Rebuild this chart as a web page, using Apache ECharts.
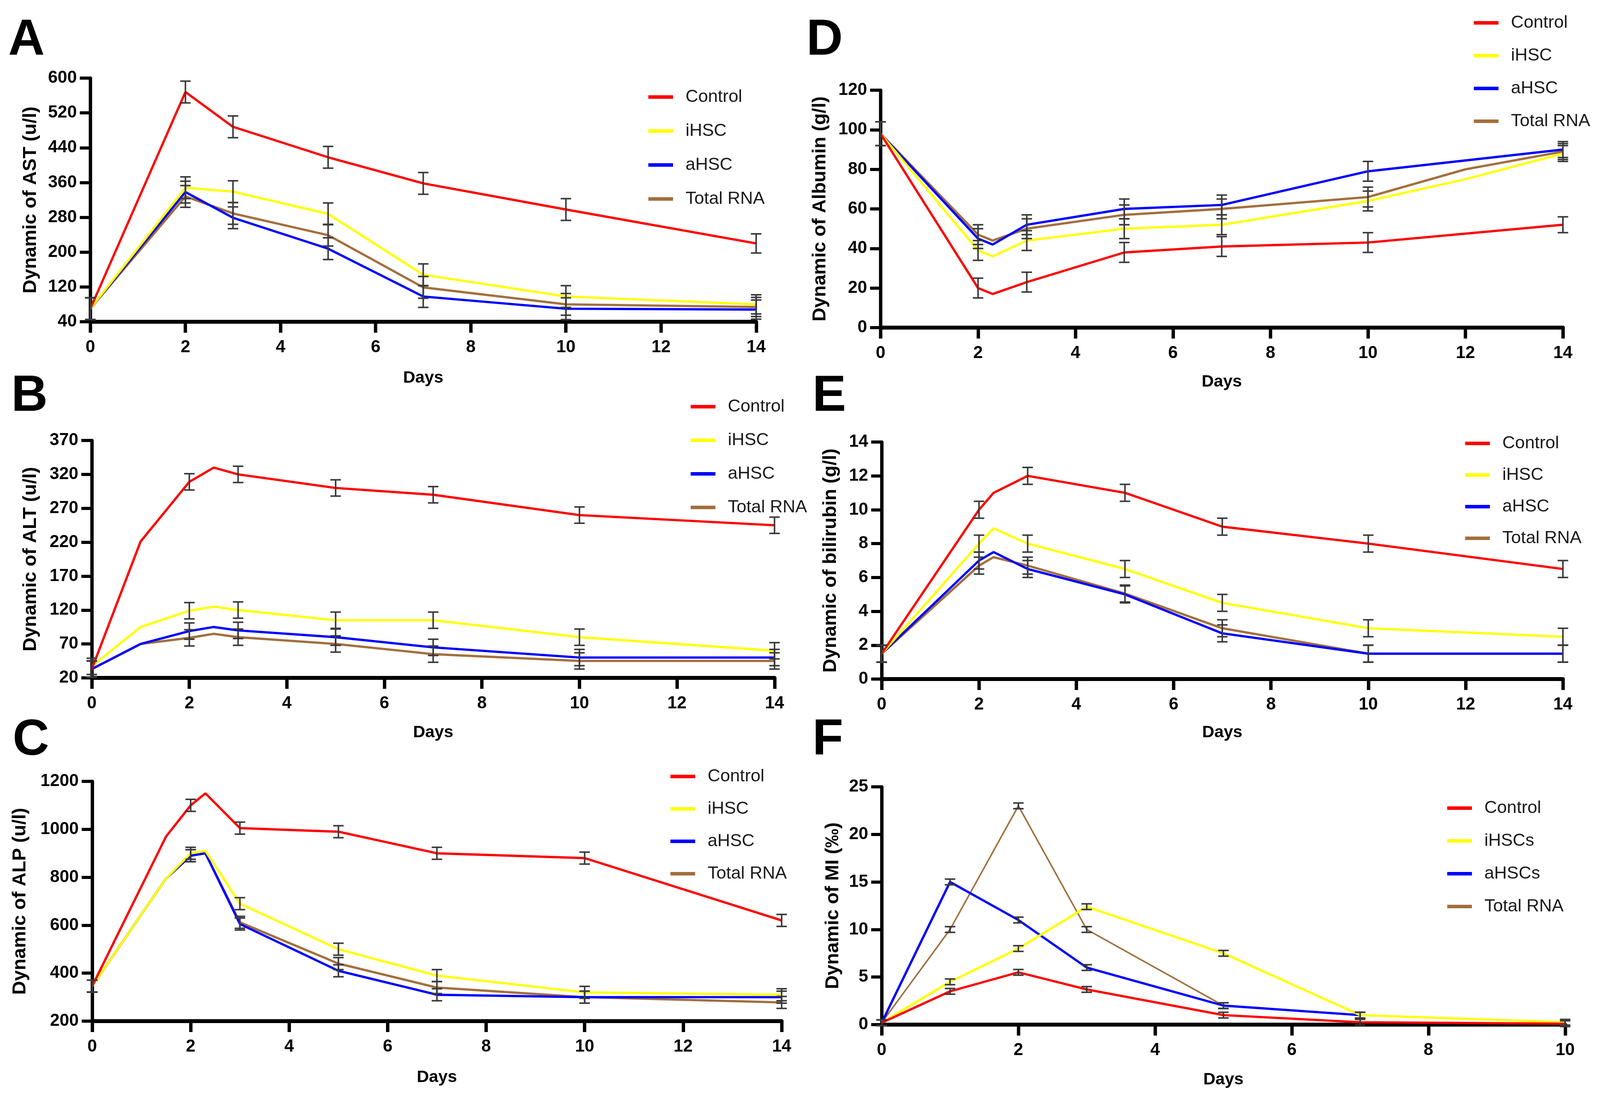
<!DOCTYPE html>
<html>
<head>
<meta charset="utf-8">
<title>Dynamic of liver indexes</title>
<script src="https://cdn.jsdelivr.net/npm/echarts@6.0.0/dist/echarts.min.js"></script>
<style>
html, body { margin: 0; padding: 0; background: #fff; overflow: hidden; }
#main { width: 100vw; height: 100vh; }
</style>
</head>
<body>
<div id="main"></div>
<script>
// 图例名称
var groupNames = ['Control', 'iHSC', 'aHSC', 'Total RNA'];
var miNames = ['Control', 'iHSCs', 'aHSCs', 'Total RNA'];

// A: AST
var astDays = [0, 2, 3, 5, 7, 10, 14];
var astControl = [70, 568, 488, 418, 358, 298, 220];
var astIHSC = [70, 348, 339, 288, 148, 98, 80];
var astAHSC = [70, 338, 279, 208, 98, 70, 68];
var astTotal = [70, 328, 289, 239, 119, 80, 74];
var astErr = [25, 25, 25, 25, 25, 25, 22];
var astTicks = [40, 120, 200, 280, 360, 440, 520, 600];

// B: ALT
var altDays = [0, 1, 2, 2.5, 3, 5, 7, 10, 14];
var altControl = [33, 221, 309, 330, 320, 300, 290, 260, 245];
var altIHSC = [37, 95, 119, 125, 120, 105, 105, 80, 60];
var altAHSC = [33, 70, 89, 95, 90, 80, 65, 50, 50];
var altTotal = [33, 70, 79, 85, 80, 70, 55, 45, 45];
var altErr = [12, null, 12, null, 12, 12, 12, 12, 12];
var altTicks = [20, 70, 120, 170, 220, 270, 320, 370];

// C: ALP
var alpDays = [0, 1.5, 2, 2.3, 3, 5, 7, 10, 14];
var alpControl = [346, 970, 1100, 1150, 1005, 990, 900, 880, 620];
var alpIHSC = [346, 795, 900, 910, 690, 500, 390, 320, 310];
var alpAHSC = [346, 795, 890, 900, 605, 410, 310, 300, 300];
var alpTotal = [346, 795, 890, 900, 612, 440, 340, 300, 278];
var alpErr = [25, null, 25, null, 25, 25, 25, 25, 25];

// D: Albumin
var albDays = [0, 2, 2.3, 3, 5, 7, 10, 12, 14];
var albControl = [98, 20, 17, 23, 38, 41, 43, null, 52];
var albIHSC = [98, 39, 36, 44, 50, 52, 64, 75, 88];
var albAHSC = [98, 45, 42, 52, 60, 62, 79, null, 90];
var albTotal = [98, 47, 44, 50, 57, 60, 66, 80, 89];
var albErr = [6, 5, null, 5, 5, 5, 5, null, 4];

// E: bilirubin
var bilDays = [0, 2, 2.3, 3, 5, 7, 10, 14];
var bilControl = [1.5, 10, 11, 12, 11, 9, 8, 6.5];
var bilIHSC = [1.5, 8, 8.9, 8, 6.5, 4.5, 3, 2.5];
var bilAHSC = [1.5, 7, 7.5, 6.5, 5, 2.7, 1.5, 1.5];
var bilTotal = [1.5, 6.7, 7.2, 6.7, 5.05, 3, 1.5, 1.5];
var bilErr = [0.5, 0.5, null, 0.5, 0.5, 0.5, 0.5, 0.5];

// F: MI
var miDays = [0, 1, 2, 3, 5, 7, 10];
var miControl = [0.2, 3.5, 5.5, 3.7, 1, 0.25, 0.1];
var miIHSC = [0.2, 4.5, 8, 12.4, 7.5, 1, 0.25];
var miAHSC = [0.2, 15, 11, 6, 2, 1, null];
var miTotal = [0.2, 10, 23, 10, 2, null, null];
var miErr = [0.3, 0.3, 0.3, 0.3, 0.3, 0.3, 0.3];

var colors = ['#ff0000', '#ffff00', '#0000ff', '#a26f3e'];
var fontName = '"Liberation Sans", Arial, sans-serif';

// 版面按 4270x2817 设计，按实际窗口大小缩放
var kx = (window.innerWidth || 4270) / 4270;
var ky = (window.innerHeight || 2817) / 2817;
var kf = (kx + ky) / 2;
function px(v) { return v * kx; }
function py(v) { return v * ky; }
function pf(v) { return v * kf; }

// 每个面板的位置和坐标轴
var panels = [
    {letter: 'A', lx: 22, ly: 104, grid: {left: 241, top: 200, width: 1777, height: 624},
     xMax: 14, yMin: 40, yMax: 600, yTicks: astTicks, yName: 'Dynamic of AST (u/l)', yGap: 134, xGap: 123,
     legend: {left: 1725, top: 221, gap: 42}, names: groupNames,
     days: astDays, values: [astControl, astIHSC, astAHSC, astTotal], err: astErr},
    {letter: 'B', lx: 30, ly: 1016, grid: {left: 245, top: 1128, width: 1822, height: 608},
     xMax: 14, yMin: 20, yMax: 370, yTicks: altTicks, yName: 'Dynamic of ALT (u/l)', yGap: 138, xGap: 119,
     legend: {left: 1838, top: 1014, gap: 41}, names: groupNames,
     days: altDays, values: [altControl, altIHSC, altAHSC, altTotal], err: altErr},
    {letter: 'C', lx: 34, ly: 1897, grid: {left: 246, top: 2001, width: 1840, height: 614},
     xMax: 14, yMin: 200, yMax: 1200, yInterval: 200, yName: 'Dynamic of ALP (u/l)', yGap: 167, xGap: 123,
     legend: {left: 1784, top: 1961, gap: 38}, names: groupNames,
     days: alpDays, values: [alpControl, alpIHSC, alpAHSC, alpTotal], err: alpErr},
    {letter: 'D', lx: 2152, ly: 104, grid: {left: 2350, top: 231, width: 1821, height: 608},
     xMax: 14, yMin: 0, yMax: 120, yInterval: 20, yName: 'Dynamic of Albumin (g/l)', yGap: 136, xGap: 118,
     legend: {left: 3928, top: 31, gap: 39}, names: groupNames,
     days: albDays, values: [albControl, albIHSC, albAHSC, albTotal], err: albErr},
    {letter: 'E', lx: 2168, ly: 1016, grid: {left: 2353, top: 1132, width: 1818, height: 607},
     xMax: 14, yMin: 0, yMax: 14, yInterval: 2, yName: 'Dynamic of bilirubin (g/l)', yGap: 111, xGap: 116,
     legend: {left: 3905, top: 1108, gap: 36}, names: groupNames,
     days: bilDays, values: [bilControl, bilIHSC, bilAHSC, bilTotal], err: bilErr},
    {letter: 'F', lx: 2168, ly: 1896, grid: {left: 2353, top: 2015, width: 1824, height: 609},
     xMax: 10, yMin: 0, yMax: 25, yInterval: 5, yName: 'Dynamic of MI (‰)', yGap: 104, xGap: 120,
     legend: {left: 3857, top: 2042, gap: 39}, names: miNames, thinTotal: true,
     days: miDays, values: [miControl, miIHSC, miAHSC, miTotal], err: miErr}
];

function pairs(days, vals) {
    var out = [];
    for (var i = 0; i < days.length; i++) {
        if (vals[i] != null) out.push([days[i], vals[i]]);
    }
    return out;
}

function errPoints(days, vals, err) {
    var out = [];
    for (var i = 0; i < days.length; i++) {
        if (vals[i] != null && err[i] != null) out.push([days[i], vals[i], err[i]]);
    }
    return out;
}

function renderErr(params, api) {
    var x = api.value(0), y = api.value(1), e = api.value(2);
    var top = api.coord([x, y + e]);
    var bot = api.coord([x, y - e]);
    var half = px(14);
    var style = {stroke: '#3a3a3a', lineWidth: pf(4)};
    return {
        type: 'group',
        children: [
            {type: 'line', shape: {x1: top[0], y1: top[1], x2: bot[0], y2: bot[1]}, style: style},
            {type: 'line', shape: {x1: top[0] - half, y1: top[1], x2: top[0] + half, y2: top[1]}, style: style},
            {type: 'line', shape: {x1: bot[0] - half, y1: bot[1], x2: bot[0] + half, y2: bot[1]}, style: style}
        ]
    };
}

function plainNum(v) { return String(v); }

var option = {
    backgroundColor: '#fff',
    animation: false,
    grid: [], xAxis: [], yAxis: [], legend: [], series: [], graphic: []
};

panels.forEach(function (p, i) {
    var g = p.grid;
    option.grid.push({left: px(g.left), top: py(g.top), width: px(g.width), height: py(g.height), outerBoundsMode: 'none'});

    option.xAxis.push({
        type: 'value', gridIndex: i, min: 0, max: p.xMax, interval: 2,
        name: 'Days', nameLocation: 'middle', nameGap: py(p.xGap),
        nameTextStyle: {fontSize: pf(44), fontWeight: 'bold', fontFamily: fontName, color: '#000'},
        axisLine: {show: true, onZero: false, lineStyle: {color: '#000', width: py(10)}},
        axisTick: {show: true, length: py(28), lineStyle: {color: '#000', width: px(9)}},
        axisLabel: {fontSize: pf(45), fontWeight: 'bold', fontFamily: fontName, color: '#000', margin: py(44), formatter: plainNum},
        splitLine: {show: false}
    });

    var yAxis = {
        type: 'value', gridIndex: i, min: p.yMin, max: p.yMax,
        name: p.yName, nameLocation: 'middle', nameGap: px(p.yGap),
        nameTextStyle: {fontSize: pf(50), fontWeight: 'bold', fontFamily: fontName, color: '#000'},
        axisLine: {show: true, onZero: false, lineStyle: {color: '#000', width: px(9)}},
        axisTick: {show: true, length: px(28), lineStyle: {color: '#000', width: py(8)}},
        axisLabel: {fontSize: pf(45), fontWeight: 'bold', fontFamily: fontName, color: '#000', margin: px(36), formatter: plainNum},
        splitLine: {show: false}
    };
    if (p.yTicks) {
        yAxis.axisTick.customValues = p.yTicks;
        yAxis.axisLabel.customValues = p.yTicks;
    } else {
        yAxis.interval = p.yInterval;
    }
    option.yAxis.push(yAxis);

    option.legend.push({
        orient: 'vertical', left: px(p.legend.left), top: py(p.legend.top),
        itemWidth: px(66), itemHeight: py(9), itemGap: py(p.legend.gap), icon: 'rect',
        selectedMode: false,
        textStyle: {fontSize: pf(46), fontFamily: fontName, color: '#1a1a1a', padding: [0, 0, 0, px(28)]},
        data: p.names.slice()
    });

    // 画线顺序：Total RNA 在最下，Control 在最上
    for (var s = 3; s >= 0; s--) {
        option.series.push({
            name: p.names[s], type: 'line', xAxisIndex: i, yAxisIndex: i,
            data: pairs(p.days, p.values[s]),
            symbol: 'none', color: colors[s],
            itemStyle: {color: colors[s]},
            lineStyle: {color: colors[s], width: pf((p.thinTotal && s === 3) ? 4 : 6)},
            z: 2
        });
    }
    for (var t = 0; t < 4; t++) {
        option.series.push({
            type: 'custom', xAxisIndex: i, yAxisIndex: i,
            renderItem: renderErr, clip: false,
            data: errPoints(p.days, p.values[t], p.err),
            encode: {x: 0, y: 1},
            silent: true, z: 3
        });
    }

    option.graphic.push({
        type: 'text', x: px(p.lx), y: py(p.ly),
        style: {text: p.letter, font: 'bold ' + pf(132) + 'px ' + fontName, fill: '#000', align: 'left', verticalAlign: 'middle'}
    });
});

var myChart = echarts.init(document.getElementById('main'));
myChart.setOption(option);
</script>
</body>
</html>
